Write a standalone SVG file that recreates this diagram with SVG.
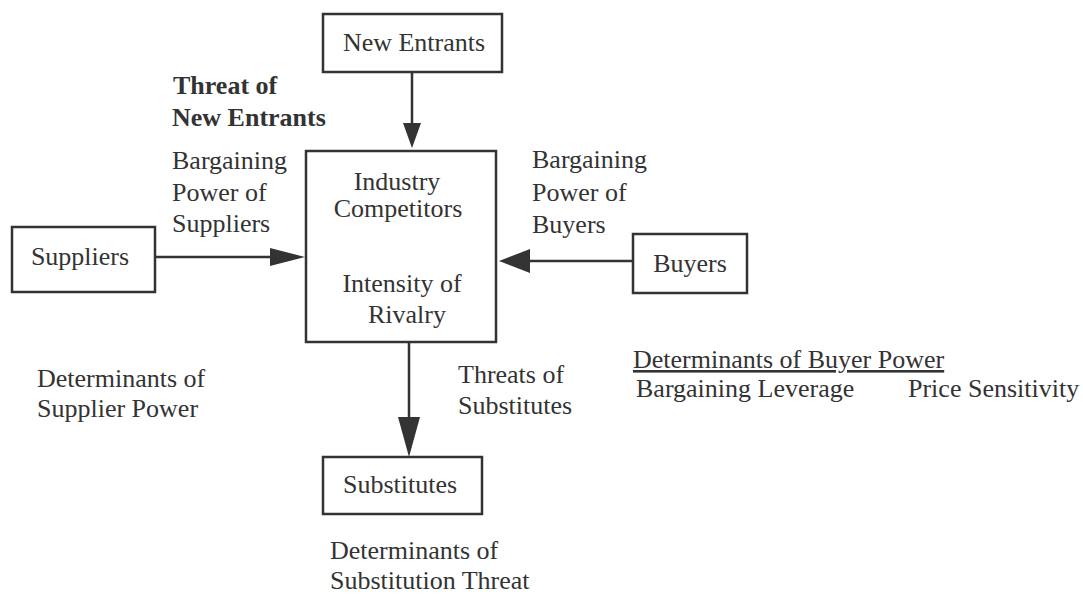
<svg xmlns="http://www.w3.org/2000/svg" width="1083" height="594" viewBox="0 0 1083 594">
<style>
.t{font-family:"Liberation Serif","Times New Roman",serif;font-size:26px;fill:#333;}
.b{font-weight:bold;}
.m{text-anchor:middle;}
.box{fill:#fff;stroke:#333;stroke-width:2.5;}
.ln{stroke:#333;stroke-width:2.5;fill:none;}
.ah{fill:#333;stroke:none;}
</style>
<rect width="1083" height="594" fill="#fff"/>
<g id="connectors">
<line class="ln" x1="412" y1="72" x2="412" y2="124"/>
<polygon class="ah" points="403,123 421,123 412,148"/>
<line class="ln" x1="153" y1="257" x2="272" y2="257"/>
<polygon class="ah" points="270,248 270,266 305,257"/>
<line class="ln" x1="633" y1="261" x2="529" y2="261"/>
<polygon class="ah" points="530,249 530,273 499,261"/>
<line class="ln" x1="409" y1="342" x2="409" y2="418"/>
<polygon class="ah" points="398,417 420,417 409,457"/>
</g>
<g id="new-entrants">
<rect class="box" x="323" y="14" width="179" height="58"/>
<text class="t m" x="414" y="51">New Entrants</text>
</g>
<g id="industry-competitors">
<rect class="box" x="306" y="151" width="190" height="191"/>
<text class="t m" x="397" y="190">Industry</text>
<text class="t m" x="398" y="217">Competitors</text>
<text class="t m" x="402" y="292">Intensity of</text>
<text class="t m" x="407" y="323">Rivalry</text>
</g>
<g id="suppliers">
<rect class="box" x="12" y="227" width="143" height="65"/>
<text class="t m" x="80" y="265">Suppliers</text>
</g>
<g id="buyers">
<rect class="box" x="633" y="234" width="114" height="59"/>
<text class="t m" x="690" y="272">Buyers</text>
</g>
<g id="substitutes">
<rect class="box" x="323" y="457" width="159" height="57"/>
<text class="t m" x="400" y="493">Substitutes</text>
</g>
<g id="labels">
<text class="t b" x="173" y="94">Threat of</text>
<text class="t b" x="172" y="126">New Entrants</text>
<text class="t" x="172" y="169">Bargaining</text>
<text class="t" x="172" y="201">Power of</text>
<text class="t" x="172" y="232">Suppliers</text>
<text class="t" x="532" y="168">Bargaining</text>
<text class="t" x="532" y="201">Power of</text>
<text class="t" x="532" y="233">Buyers</text>
<text class="t" x="458" y="383">Threats of</text>
<text class="t" x="458" y="414">Substitutes</text>
<text class="t" x="37" y="387">Determinants of</text>
<text class="t" x="37" y="417">Supplier Power</text>
<text class="t" x="330" y="559">Determinants of</text>
<text class="t" x="330" y="589">Substitution Threat</text>
<text class="t" x="633" y="368" text-decoration="underline">Determinants of Buyer Power</text>
<text class="t" x="636" y="397">Bargaining Leverage</text>
<text class="t" x="908" y="397">Price Sensitivity</text>
</g>
</svg>
